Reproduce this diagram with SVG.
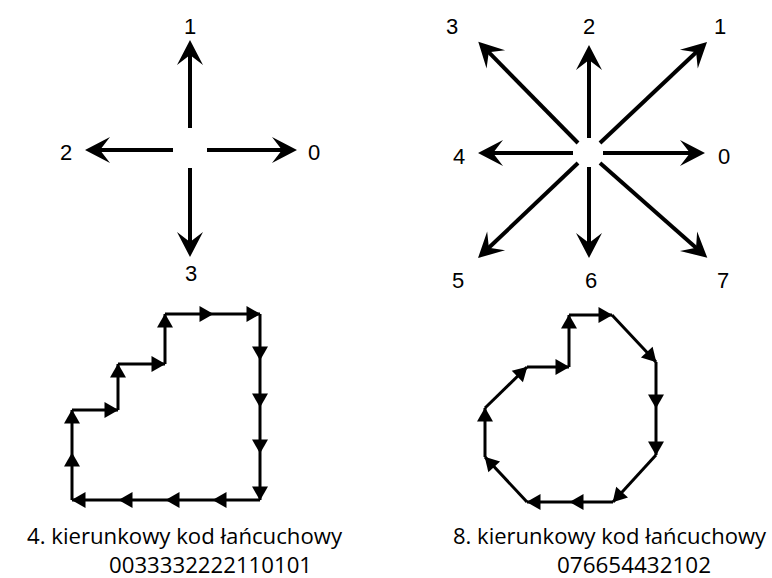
<svg xmlns="http://www.w3.org/2000/svg" width="772" height="578" viewBox="0 0 772 578">
  <style>
    .dir { stroke: #000; stroke-width: 4; fill: none; marker-end: url(#barb); }
    .step { stroke: #000; stroke-width: 3; fill: none; marker-end: url(#tri); }
    .num { font-family: "Liberation Sans", Arial, sans-serif; font-size: 22px; fill: #000; text-anchor: middle; }
    .cap { font-family: "Open Sans", "Noto Sans", sans-serif; font-size: 22px; fill: #000; }
  </style>
  <defs>
    <!-- barbed arrowhead for the direction stars; tip sits 12px past the line end -->
    <marker id="barb" markerUnits="userSpaceOnUse" viewBox="-14 -14 28 28" markerWidth="28" markerHeight="28" refX="0" refY="0" orient="auto">
      <path d="M12,0 L-13,-13 L-3,0 L-13,13 Z" fill="#000"/>
    </marker>
    <!-- solid triangle for chain-code steps; tip on the vertex -->
    <marker id="tri" markerUnits="userSpaceOnUse" viewBox="-15 -9 17 18" markerWidth="17" markerHeight="18" refX="0" refY="0" orient="auto">
      <path d="M0.5,0 L-13.5,-8 L-13.5,8 Z" fill="#000"/>
    </marker>
  </defs>

  <g id="connectors">
    <!-- 4-direction star -->
    <g id="star4">
      <line class="dir" x1="190" y1="128" x2="190" y2="52"/>
      <line class="dir" x1="173" y1="150" x2="97" y2="150"/>
      <line class="dir" x1="207" y1="150" x2="285" y2="150"/>
      <line class="dir" x1="190" y1="168" x2="190" y2="245"/>
    </g>
    <!-- 8-direction star -->
    <g id="star8">
      <line class="dir" x1="603" y1="153" x2="693" y2="153"/>
      <line class="dir" x1="600" y1="143" x2="698.3" y2="50.2"/>
      <line class="dir" x1="589" y1="138" x2="589" y2="57"/>
      <line class="dir" x1="578" y1="143" x2="486.7" y2="50.2"/>
      <line class="dir" x1="573" y1="153" x2="490" y2="153"/>
      <line class="dir" x1="578" y1="163" x2="486.7" y2="249.8"/>
      <line class="dir" x1="589" y1="167" x2="589" y2="246"/>
      <line class="dir" x1="600" y1="163" x2="698.3" y2="249.8"/>
    </g>
    <!-- 4-direction chain code: 0033332222110101 -->
    <g id="chain4">
      <line class="step" x1="165" y1="314" x2="213" y2="314"/>
      <line class="step" x1="213" y1="314" x2="260" y2="314"/>
      <line class="step" x1="260" y1="314" x2="260" y2="360"/>
      <line class="step" x1="260" y1="360" x2="260" y2="407"/>
      <line class="step" x1="260" y1="407" x2="260" y2="453"/>
      <line class="step" x1="260" y1="453" x2="260" y2="500"/>
      <line class="step" x1="260" y1="500" x2="213" y2="500"/>
      <line class="step" x1="213" y1="500" x2="166" y2="500"/>
      <line class="step" x1="166" y1="500" x2="119" y2="500"/>
      <line class="step" x1="119" y1="500" x2="72" y2="500"/>
      <line class="step" x1="72" y1="500" x2="72" y2="453"/>
      <line class="step" x1="72" y1="453" x2="72" y2="410"/>
      <line class="step" x1="72" y1="410" x2="118" y2="410"/>
      <line class="step" x1="118" y1="410" x2="118" y2="364"/>
      <line class="step" x1="118" y1="364" x2="165" y2="364"/>
      <line class="step" x1="165" y1="364" x2="165" y2="314"/>
    </g>
    <!-- 8-direction chain code: 076654432102 -->
    <g id="chain8">
      <line class="step" x1="569" y1="315" x2="612" y2="315"/>
      <line class="step" x1="612" y1="315" x2="656" y2="362"/>
      <line class="step" x1="656" y1="362" x2="656" y2="408"/>
      <line class="step" x1="656" y1="408" x2="656" y2="455"/>
      <line class="step" x1="656" y1="455" x2="613" y2="502"/>
      <line class="step" x1="613" y1="502" x2="570" y2="502"/>
      <line class="step" x1="570" y1="502" x2="527" y2="502"/>
      <line class="step" x1="527" y1="502" x2="485" y2="457"/>
      <line class="step" x1="485" y1="457" x2="485" y2="408"/>
      <line class="step" x1="485" y1="408" x2="527" y2="367"/>
      <line class="step" x1="527" y1="367" x2="569" y2="367"/>
      <line class="step" x1="569" y1="367" x2="569" y2="315"/>
    </g>
  </g>

  <!-- direction labels, 4-direction -->
  <g id="labels4">
    <text class="num" x="190" y="34">1</text>
    <text class="num" x="66" y="160">2</text>
    <text class="num" x="314" y="160">0</text>
    <text class="num" x="191" y="281">3</text>
  </g>
  <!-- direction labels, 8-direction -->
  <g id="labels8">
    <text class="num" x="452" y="34">3</text>
    <text class="num" x="589" y="34">2</text>
    <text class="num" x="720" y="34">1</text>
    <text class="num" x="459" y="164">4</text>
    <text class="num" x="724" y="164">0</text>
    <text class="num" x="458" y="288">5</text>
    <text class="num" x="591" y="288">6</text>
    <text class="num" x="723" y="288">7</text>
  </g>

  <!-- captions -->
  <g id="caption4">
    <text class="cap" x="27" y="544" textLength="315" lengthAdjust="spacingAndGlyphs">4. kierunkowy kod łańcuchowy</text>
    <text class="cap" x="109" y="573" textLength="203" lengthAdjust="spacingAndGlyphs">0033332222110101</text>
  </g>
  <g id="caption8">
    <text class="cap" x="453" y="544" textLength="313" lengthAdjust="spacingAndGlyphs">8. kierunkowy kod łańcuchowy</text>
    <text class="cap" x="557" y="573" textLength="154" lengthAdjust="spacingAndGlyphs">076654432102</text>
  </g>
</svg>
